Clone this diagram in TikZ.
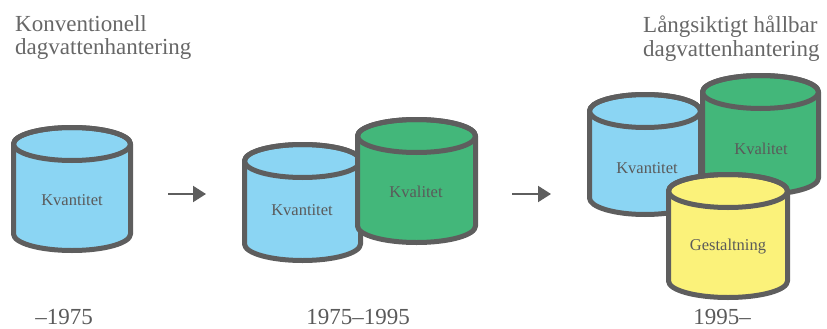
\documentclass[tikz,border=0pt]{standalone}
\usepackage{fontspec}
\setmainfont{Liberation Serif}
\usetikzlibrary{arrows.meta}
\definecolor{cylblue}{HTML}{8BD5F3}
\definecolor{cylgreen}{HTML}{43B77A}
\definecolor{cylyellow}{HTML}{FBF27A}
\definecolor{edgegray}{HTML}{5E5E5E}
\definecolor{txtgray}{HTML}{5A5A5A}
\definecolor{titlegray}{HTML}{676767}
\newcommand\mycyl[5]{%
  \pgfmathsetmacro\cyltop{-(#2)-16.5}%
  \pgfmathsetmacro\cylbot{\cyltop-(#4)}%
  \filldraw[cylline, fill=#5] ({#1-#3},\cyltop) -- ({#1-#3},\cylbot)
    arc[start angle=180, end angle=360, x radius=#3, y radius=16.5]
    -- ({#1+#3},\cyltop)
    arc[start angle=0, end angle=180, x radius=#3, y radius=16.5] -- cycle;
  \draw[cylline] (#1,\cyltop) ellipse[x radius=#3, y radius=16.5];
}
\begin{document}
\begin{tikzpicture}[x=1pt, y=1pt,
  cylline/.style={draw=edgegray, line width=5pt, line join=round},
  cyllabel/.style={font=\fontsize{16.5}{18}\selectfont, text=txtgray, inner sep=0pt},
  titletext/.style={font=\fontsize{23}{23}\selectfont, text=titlegray, inner sep=0pt, anchor=base west},
  yeartext/.style={font=\fontsize{23}{23}\selectfont, text=txtgray, inner sep=0pt, anchor=base},
  flow/.style={draw=edgegray, line width=2pt, -{Triangle[length=13pt, width=16pt]}}]
\useasboundingbox (0,0) rectangle (827,-329);

% titles
\node[titletext] (t1a) at (15,-32) {Konventionell};
\node[titletext] (t1b) at (15,-55) {dagvattenhantering};
\node[titletext] (t3a) at (643,-33) {Långsiktigt hållbar};
\node[titletext] (t3b) at (643,-57) {dagvattenhantering};

% stage 1
\mycyl{72}{127.5}{58.5}{90}{cylblue}
\node[cyllabel] (k1) at (72,-200) {Kvantitet};

% stage 2
\mycyl{302.5}{144.5}{58}{83}{cylblue}
\node[cyllabel] (k2) at (302,-210) {Kvantitet};
\mycyl{416.5}{119.5}{59}{90}{cylgreen}
\node[cyllabel] (q2) at (416,-192) {Kvalitet};

% stage 3
\mycyl{645}{94.5}{55.5}{87}{cylblue}
\node[cyllabel] (k3) at (647,-168) {Kvantitet};
\mycyl{760.5}{75.5}{58}{86}{cylgreen}
\node[cyllabel] (q3) at (761,-149) {Kvalitet};
\mycyl{728}{174.5}{59.5}{90}{cylyellow}
\node[cyllabel] (g3) at (728,-247) {Gestaltning};

% arrows
\coordinate (a1s) at (168,-194);
\coordinate (a1e) at (206,-194);
\coordinate (a2s) at (512,-194);
\coordinate (a2e) at (551,-194);
\draw[flow] (a1s) -- (a1e);
\draw[flow] (a2s) -- (a2e);

% years
\node[yeartext] (y1) at (64,-324) {–1975};
\node[yeartext] (y2) at (358,-324) {1975–1995};
\node[yeartext] (y3) at (722,-324) {1995–};
\end{tikzpicture}
\end{document}
